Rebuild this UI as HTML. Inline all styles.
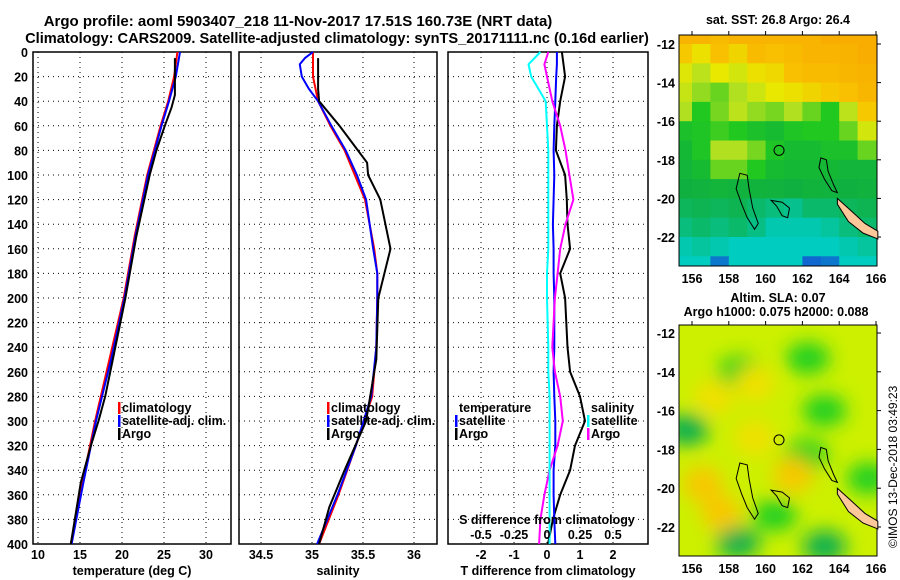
<!DOCTYPE html>
<html><head><meta charset="utf-8">
<style>
body{margin:0;background:#fff;}
svg{display:block;font-family:"Liberation Sans",Arial,sans-serif;font-weight:bold;}
</style></head>
<body>
<svg id="fig" width="900" height="580" viewBox="0 0 900 580">
<defs>
<filter id="blur" x="-50%" y="-50%" width="200%" height="200%"><feGaussianBlur stdDeviation="9"/></filter>
<clipPath id="clipSLA"><rect x="679" y="325" width="198" height="231"/></clipPath>
</defs>
<text x="298" y="26" font-size="15" text-anchor="middle">Argo profile: aoml 5903407_218 11-Nov-2017 17.51S 160.73E (NRT data)</text>
<text x="337" y="43" font-size="14.6" text-anchor="middle">Climatology: CARS2009. Satellite-adjusted climatology: synTS_20171111.nc (0.16d earlier)</text>
<g id="g"></g>
</svg>
<script>
// ---- data ----
const depthTicks=[0,20,40,60,80,100,120,140,160,180,200,220,240,260,280,300,320,340,360,380,400];
const tempTicks=[10,15,20,25,30];
const salTicks=[34.5,35,35.5,36];
const tdiffTicks=[-2,-1,0,1,2];
const sdiffTicks=[-0.5,-0.25,0,0.25,0.5];
const sdiffLabels=["-0.5","-0.25","0","0.25","0.5"];

const climDepth=[0,20,40,60,80,100,150,200,250,300,350,400];
const climTemp=[26.6,26.2,25.5,24.6,23.8,23.0,21.5,20.2,18.5,16.8,15.3,13.9];
const satDepth=[0,20,40,60,80,100,150,200,250,300,350,400];
const satTemp=[26.9,26.4,25.6,24.7,23.9,23.1,21.6,20.3,18.7,16.9,15.4,14.0];
const argoDepth=[5,35,45,60,80,100,150,200,250,280,300,320,350,400];
const argoTemp=[26.3,26.3,25.9,25.1,24.1,23.3,21.7,20.4,18.9,18.0,17.2,16.3,15.1,13.9];

const climSalDepth=[0,20,40,60,80,100,120,160,180,200,240,280,320,360,400];
const climSal=[35.01,35.01,35.06,35.18,35.32,35.42,35.52,35.61,35.64,35.64,35.63,35.59,35.43,35.26,35.07];
const satSalDepth=[0,5,10,20,30,40,60,80,100,120,160,180,200,240,280,320,360,400];
const satSal=[35.01,34.93,34.88,34.9,34.97,35.06,35.19,35.33,35.44,35.53,35.6,35.64,35.64,35.63,35.58,35.43,35.25,35.05];
const argoSalDepth=[5,30,40,60,80,90,100,120,140,160,180,200,250,300,340,370,400];
const argoSal=[35.06,35.06,35.07,35.27,35.45,35.54,35.55,35.67,35.72,35.77,35.71,35.65,35.63,35.53,35.32,35.17,35.07];

const diffDepth=[0,10,20,40,60,80,100,120,140,160,180,200,240,260,280,300,320,340,360,380,400];
const argoTdiff=[0.45,0.5,0.55,0.4,0.3,0.27,0.55,0.6,0.62,0.7,0.4,0.55,0.62,0.7,1.0,1.15,0.85,0.7,0.4,0.18,0.03];
const satTdiff=[0.3,0.3,0.28,0.25,0.22,0.2,0.22,0.2,0.18,0.2,0.2,0.22,0.22,0.2,0.22,0.25,0.25,0.2,0.2,0.22,0.25];
const argoSdiff=[0.01,-0.02,0.0,0.04,0.1,0.14,0.17,0.2,0.14,0.1,0.08,0.06,0.04,0.06,0.1,0.12,0.08,0.02,-0.02,-0.05,-0.06];
const satSdiff=[-0.05,-0.14,-0.12,-0.01,0.0,0.01,0.01,0.01,0.01,0.01,0.0,0.0,0.01,0.01,0.02,0.02,0.02,0.02,0.02,0.02,0.02];

const sstLon=[155.5,156.5,157.5,158.5,159.5,160.5,161.5,162.5,163.5,164.5,165.5];
const sstLat=[-11.5,-12.5,-13.5,-14.5,-15.5,-16.5,-17.5,-18.5,-19.5,-20.5,-21.5,-22.5,-23.5];
const sstGrid=[
[0.85,0.85,0.82,0.85,0.85,0.85,0.85,0.85,0.88,0.88,0.88],
[0.78,0.72,0.8,0.75,0.82,0.8,0.82,0.85,0.85,0.86,0.88],
[0.68,0.62,0.7,0.66,0.72,0.74,0.8,0.82,0.82,0.84,0.86],
[0.64,0.58,0.55,0.6,0.65,0.7,0.72,0.75,0.78,0.8,0.84],
[0.6,0.5,0.56,0.62,0.58,0.56,0.6,0.55,0.5,0.62,0.78],
[0.45,0.48,0.52,0.5,0.45,0.42,0.48,0.5,0.5,0.55,0.66],
[0.4,0.48,0.6,0.6,0.56,0.48,0.42,0.42,0.45,0.45,0.55],
[0.38,0.42,0.55,0.55,0.5,0.42,0.4,0.4,0.4,0.38,0.38],
[0.35,0.36,0.38,0.36,0.37,0.36,0.35,0.37,0.36,0.35,0.36],
[0.32,0.33,0.32,0.33,0.3,0.28,0.26,0.3,0.3,0.32,0.33],
[0.28,0.3,0.28,0.3,0.27,0.22,0.22,0.22,0.24,0.28,0.3],
[0.22,0.24,0.22,0.2,0.2,0.2,0.2,0.2,0.2,0.22,0.24],
[0.2,0.2,0.08,0.2,0.2,0.2,0.2,0.06,0.08,0.2,0.2]];

const slaBlobLon=[163.2,158.6,162.3,155.7,162.2,158.5,163.2,165.6,156.6,159.4,161.5,157.2,159.4,157.6,160.5];
const slaBlobLat=[-16.0,-14.0,-13.3,-17.0,-18.3,-22.8,-23.0,-19.5,-19.8,-17.4,-19.3,-15.3,-14.6,-21.3,-21.4];
const slaBlobVal=[-1,-1,-1,-1.3,-1,-1.2,-1.2,-1,1,0.7,0.8,0.6,0.6,0.8,-0.8];

const lonTicks=[156,158,160,162,164,166];
const latTicks=[-12,-14,-16,-18,-20,-22];

// ---- helpers ----
const NS="http://www.w3.org/2000/svg";
const G=document.getElementById('g');
function mk(tag,attrs,parent){const e=document.createElementNS(NS,tag);for(const k in attrs)e.setAttribute(k,attrs[k]);(parent||G).appendChild(e);return e;}
const Y0=52,Y1=544;
const yD=d=>Y0+(Y1-Y0)*d/400;
const xT=t=>38+8.4*(t-10);
const xS=s=>312+102*(s-35);
const xTd=t=>547+33*t;
const xSd=s=>547+132*s;

function panel(x0,x1,name){
  const p=mk('g',{});
  
  
  return p;
}
function frame(p,x0,x1,xt,xfn,labels,xlabel,leftLabels){
  depthTicks.forEach(d=>{if(d>0&&d<400){const l=mk('line',{x1:x0,x2:x1,y1:yD(d),y2:yD(d),stroke:'#000','stroke-width':1,'stroke-dasharray':'1,4'},p);}});
  xt.forEach(v=>{const x=xfn(v);const l=mk('line',{x1:x,x2:x,y1:Y0,y2:Y1,stroke:'#000','stroke-width':1,'stroke-dasharray':'1,4'},p);
    const t=mk('text',{x:x,y:Y1+15,'font-size':12.5,'text-anchor':'middle'},p);t.textContent=labels?labels[xt.indexOf(v)]:String(v);});
  const r=mk('rect',{x:x0,y:Y0,width:x1-x0,height:Y1-Y0,fill:'none',stroke:'#000','stroke-width':1.5},p);
  
  const xl=mk('text',{x:(x0+x1)/2,y:575,'font-size':12.5,'text-anchor':'middle'},p);xl.textContent=xlabel;
  
  if(leftLabels){depthTicks.forEach(d=>{const t=mk('text',{x:28,y:yD(d)+5,'font-size':12.5,'text-anchor':'end'},p);t.textContent=d;});}
}
function line(p,xs,ds,xfn,color,w,name){
  const pts=xs.map((v,i)=>xfn(v).toFixed(1)+','+yD(ds[i]).toFixed(1)).join(' ');
  const l=mk('polyline',{points:pts,fill:'none',stroke:color,'stroke-width':w,'stroke-linejoin':'round'},p);
  
}
function legend(p,x,y,items){
  items.forEach((it,i)=>{
    const yy=y+i*13;
    if(it[1]){const m=mk('rect',{x:x,y:yy-10,width:2.5,height:12,fill:it[1]},p);}
    const t=mk('text',{x:x+4,y:yy,'font-size':12.5},p);t.textContent=it[0];
  });
}

const p1=panel(33,231,'temperature-panel');
frame(p1,33,231,tempTicks,xT,null,'temperature (deg C)',true);
line(p1,climTemp,climDepth,xT,'#f00',2,'climatology-temp-line');
line(p1,satTemp,satDepth,xT,'#00f',2,'satellite-temp-line');
line(p1,argoTemp,argoDepth,xT,'#000',2,'argo-temp-line');
legend(p1,118,412,[['climatology','#f00'],['satellite-adj. clim.','#00f'],['Argo','#000']]);

const p2=panel(239,437,'salinity-panel');
frame(p2,239,437,salTicks,xS,null,'salinity',false);
line(p2,climSal,climSalDepth,xS,'#f00',2,'climatology-salinity-line');
line(p2,satSal,satSalDepth,xS,'#00f',2,'satellite-salinity-line');
line(p2,argoSal,argoSalDepth,xS,'#000',2,'argo-salinity-line');
legend(p2,327,412,[['climatology','#f00'],['satellite-adj. clim.','#00f'],['Argo','#000']]);

const p3=panel(448,648,'difference-panel');
frame(p3,448,648,tdiffTicks,xTd,null,'T difference from climatology',false);
line(p3,argoTdiff,diffDepth,xTd,'#000',2,'argo-t-diff-line');
line(p3,satTdiff,diffDepth,xTd,'#00f',2,'satellite-t-diff-line');
line(p3,argoSdiff,diffDepth,xSd,'#f0f',2,'argo-s-diff-line');
line(p3,satSdiff,diffDepth,xSd,'#0ff',2,'satellite-s-diff-line');
legend(p3,455,412,[['temperature',null],['satellite','#00f'],['Argo','#000']]);
legend(p3,587,412,[['salinity',null],['satellite','#0ff'],['Argo','#f0f']]);
{const t=mk('text',{x:547,y:524,'font-size':12.5,'text-anchor':'middle'},p3);t.textContent='S difference from climatology';}
sdiffTicks.forEach((v,i)=>{const t=mk('text',{x:xSd(v),y:539,'font-size':12.5,'text-anchor':'middle'},p3);t.textContent=sdiffLabels[i];});

function cmap(v){
  const stops=[[0.05,[16,96,208]],[0.2,[0,204,192]],[0.35,[16,176,64]],[0.5,[32,200,32]],[0.6,[176,224,32]],[0.7,[232,232,0]],[0.8,[248,192,0]],[0.9,[248,168,0]]];
  if(v<=stops[0][0])return 'rgb('+stops[0][1]+')';
  for(let i=1;i<stops.length;i++){if(v<=stops[i][0]){const a=stops[i-1],b=stops[i];const f=(v-a[0])/(b[0]-a[0]);return 'rgb('+a[1].map((c,j)=>Math.round(c+(b[1][j]-c)*f)).join(',')+')';}}
  return 'rgb('+stops[stops.length-1][1]+')';
}
function mapAxes(p,mx0,my0,mx1,my1,latY0,latY1){
  const lx=lon=>692+18.4*(lon-156);
  const ly=lat=>latY0+(latY1-latY0)*(lat+12)/(-10);
  const r=mk('rect',{x:mx0,y:my0,width:mx1-mx0,height:my1-my0,fill:'none',stroke:'#000','stroke-width':1},p);
  
  lonTicks.forEach(v=>{const t=mk('text',{x:lx(v),y:my1+17,'font-size':12.5,'text-anchor':'middle'},p);t.textContent=v;
    mk('line',{x1:lx(v),x2:lx(v),y1:my0,y2:my0-4,stroke:'#000'},p);});
  latTicks.forEach(v=>{const t=mk('text',{x:mx0-4,y:ly(v)+5,'font-size':12.5,'text-anchor':'end'},p);t.textContent=v;
    mk('line',{x1:mx1,x2:mx1+4,y1:ly(v),y2:ly(v),stroke:'#000'},p);});
  const c=mk('circle',{cx:lx(160.73),cy:ly(-17.51),r:5,fill:'none',stroke:'#000','stroke-width':1},p);
  
  const nc=mk('polygon',{points:[[163.9,-20.0],[164.6,-20.6],[165.4,-21.3],[166.1,-21.7],[166.1,-22.1],[165.3,-21.8],[164.5,-21.2],[163.9,-20.3]].map(q=>lx(q[0])+','+ly(q[1])).join(' '),fill:'#fcc89a',stroke:'#000','stroke-width':1},p);
  
  const isl=mk('polygon',{points:[[158.6,-18.7],[159.0,-18.8],[159.1,-19.5],[159.3,-20.5],[159.6,-21.3],[159.4,-21.6],[159.0,-21.0],[158.7,-20.3],[158.4,-19.5]].map(q=>lx(q[0])+','+ly(q[1])).join(' '),fill:'none',stroke:'#000','stroke-width':1},p);
  
  const isl2=mk('polygon',{points:[[163.0,-17.9],[163.3,-18.0],[163.4,-18.6],[163.7,-19.3],[163.9,-19.7],[163.6,-19.6],[163.2,-19.0],[162.9,-18.4]].map(q=>lx(q[0])+','+ly(q[1])).join(' '),fill:'none',stroke:'#000','stroke-width':1},p);
  
  const isl3=mk('polygon',{points:[[160.3,-20.1],[160.9,-20.2],[161.3,-20.5],[161.2,-21.0],[160.9,-20.9],[160.6,-20.4]].map(q=>lx(q[0])+','+ly(q[1])).join(' '),fill:'none',stroke:'#000','stroke-width':1},p);
  
  return [lx,ly];
}
const pm1=mk('g',{});


{
  const lx=lon=>692+18.4*(lon-156), ly=lat=>44+19.3*(-12-lat);
  sstGrid.forEach((row,i)=>row.forEach((v,j)=>{
    const x0=Math.max(679,lx(sstLon[j]-0.5)),x1=Math.min(877,lx(sstLon[j]+0.5));
    const y0=Math.max(35,ly(sstLat[i]+0.5)),y1=Math.min(266,ly(sstLat[i]-0.5));
    const c=mk('rect',{x:x0,y:y0,width:x1-x0+0.5,height:y1-y0+0.5,fill:cmap(v)},pm1);
    
  }));
  mapAxes(pm1,679,35,877,266,44,237);
  const t=mk('text',{x:778,y:24,'font-size':12.5,'text-anchor':'middle'},pm1);t.textContent='sat. SST: 26.8 Argo: 26.4';
  
}
const pm2=mk('g',{});


{
  const lx=lon=>692+18.4*(lon-156), ly=lat=>333+19.4*(-12-lat);
  const bg=mk('rect',{x:679,y:325,width:198,height:231,fill:'#ccf000'},pm2);
  
  const bl=mk('g',{'clip-path':'url(#clipSLA)'},pm2);
  const bl2=mk('g',{filter:'url(#blur)'},bl);
  slaBlobLon.forEach((lon,i)=>{
    const v=slaBlobVal[i];
    const col=v<-1.1?'#10b050':(v<0?'#20d020':(v>0.75?'#f8c800':'#f0e000'));
    const e=mk('ellipse',{cx:lx(lon),cy:ly(slaBlobLat[i]),rx:v<0?22:20,ry:v<0?16:18,fill:col},bl2);
    
  });
  mapAxes(pm2,679,325,877,556,333,527);
  const t1=mk('text',{x:778,y:302,'font-size':12.5,'text-anchor':'middle'},pm2);t1.textContent='Altim. SLA: 0.07';
  
  const t2=mk('text',{x:776,y:316,'font-size':12.5,'text-anchor':'middle'},pm2);t2.textContent='Argo h1000: 0.075 h2000: 0.088';
  
}
const cr=mk('text',{x:0,y:0,'font-size':12,'font-weight':'normal',transform:'translate(897,548) rotate(-90)'});
cr.textContent='©IMOS 13-Dec-2018 03:49:23';


</script>
</body></html>
